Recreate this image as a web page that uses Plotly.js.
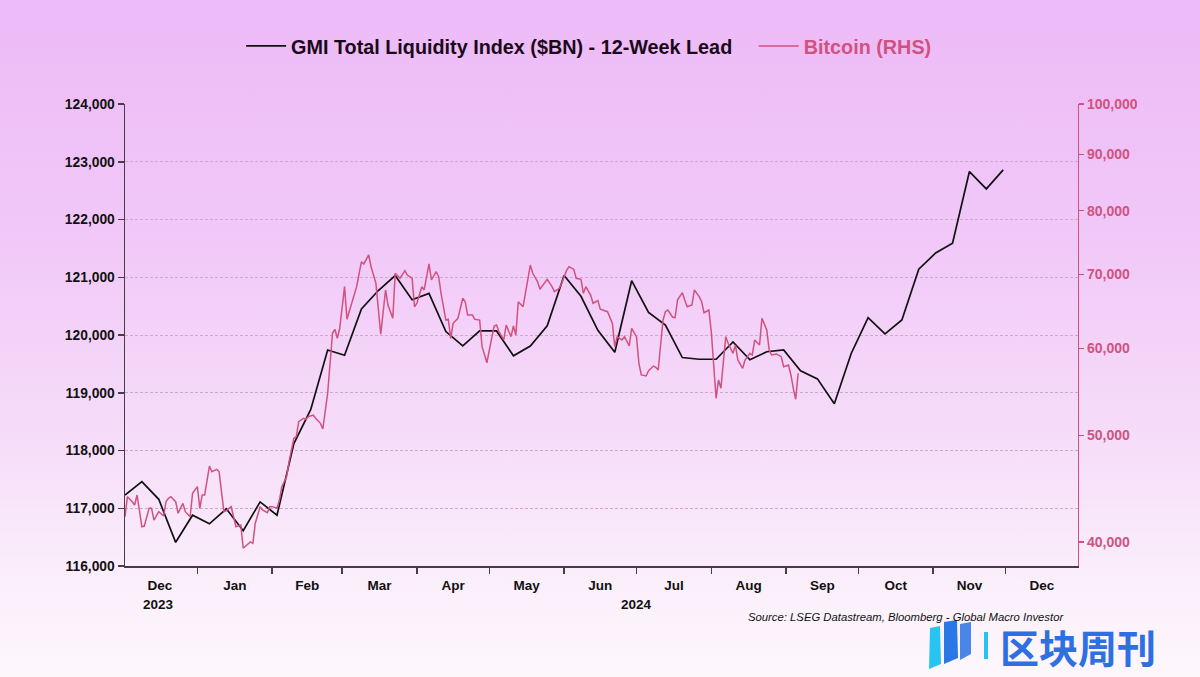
<!DOCTYPE html>
<html><head><meta charset="utf-8">
<script src="https://cdn.plot.ly/plotly-3.0.1.min.js"></script>
<style>
html,body{margin:0;padding:0;width:1200px;height:677px;overflow:hidden;
background:linear-gradient(to bottom,#EDBAF7 0%,#F1C8F8 35%,#F6DDF9 65%,#FBF0FB 88%,#FDF7FC 100%);}
#chart{width:1200px;height:677px;}
</style></head><body><div id="chart"></div>
<script>
const gmiDates = ["2023-12-02","2023-12-09","2023-12-16","2023-12-23","2023-12-30","2024-01-06","2024-01-13","2024-01-20","2024-01-27","2024-02-03","2024-02-10","2024-02-17","2024-02-24","2024-03-02","2024-03-09","2024-03-16","2024-03-23","2024-03-30","2024-04-06","2024-04-13","2024-04-20","2024-04-27","2024-05-04","2024-05-11","2024-05-18","2024-05-25","2024-06-01","2024-06-08","2024-06-15","2024-06-22","2024-06-29","2024-07-06","2024-07-13","2024-07-20","2024-07-27","2024-08-03","2024-08-10","2024-08-17","2024-08-24","2024-08-31","2024-09-07","2024-09-14","2024-09-21","2024-09-28","2024-10-05","2024-10-12","2024-10-19","2024-10-26","2024-11-02","2024-11-09","2024-11-16","2024-11-23","2024-11-30"];
const gmiValues = [117230,117460,117155,116410,116880,116730,116990,116610,117110,116880,118120,118710,119740,119650,120450,120770,121030,120610,120720,120060,119810,120070,120070,119640,119810,120160,121030,120670,120080,119700,120940,120390,120170,119610,119580,119580,119880,119570,119710,119740,119380,119240,118810,119680,120300,120020,120260,121140,121420,121590,122830,122530,122860];

const btcDates = ["2023-12-02","2023-12-03","2023-12-05","2023-12-06","2023-12-07","2023-12-09","2023-12-10","2023-12-12","2023-12-13","2023-12-14","2023-12-16","2023-12-18","2023-12-19","2023-12-20","2023-12-21","2023-12-23","2023-12-24","2023-12-26","2023-12-27","2023-12-29","2023-12-30",
"2024-01-01","2024-01-02","2024-01-03","2024-01-04","2024-01-06","2024-01-07","2024-01-09","2024-01-10","2024-01-12","2024-01-13","2024-01-15","2024-01-16","2024-01-17","2024-01-19","2024-01-20","2024-01-22","2024-01-23","2024-01-24","2024-01-25","2024-01-27","2024-01-28","2024-01-30","2024-01-31",
"2024-02-01","2024-02-03","2024-02-04","2024-02-05","2024-02-07","2024-02-08","2024-02-10","2024-02-11","2024-02-12","2024-02-14","2024-02-15","2024-02-16","2024-02-18","2024-02-19","2024-02-21","2024-02-22","2024-02-24","2024-02-25","2024-02-26","2024-02-27","2024-02-28","2024-02-29",
"2024-03-02","2024-03-03","2024-03-05","2024-03-06","2024-03-07","2024-03-09","2024-03-10","2024-03-12","2024-03-13","2024-03-15","2024-03-17","2024-03-19","2024-03-20","2024-03-22","2024-03-23","2024-03-25","2024-03-27","2024-03-28","2024-03-30","2024-03-31",
"2024-04-01","2024-04-03","2024-04-04","2024-04-06","2024-04-07","2024-04-09","2024-04-10","2024-04-11","2024-04-13","2024-04-14","2024-04-15","2024-04-16","2024-04-18","2024-04-20","2024-04-21","2024-04-22","2024-04-24","2024-04-25","2024-04-27","2024-04-28","2024-04-30",
"2024-05-01","2024-05-03","2024-05-04","2024-05-05","2024-05-07","2024-05-08","2024-05-10","2024-05-11","2024-05-12","2024-05-13","2024-05-15","2024-05-16","2024-05-18","2024-05-19","2024-05-21","2024-05-22","2024-05-24","2024-05-25","2024-05-27","2024-05-28","2024-05-30","2024-05-31",
"2024-06-02","2024-06-03","2024-06-05","2024-06-06","2024-06-08","2024-06-09","2024-06-10","2024-06-12","2024-06-13","2024-06-15","2024-06-16","2024-06-18","2024-06-19","2024-06-21","2024-06-22","2024-06-23","2024-06-25","2024-06-26","2024-06-28","2024-06-29",
"2024-07-01","2024-07-02","2024-07-03","2024-07-05","2024-07-06","2024-07-08","2024-07-09","2024-07-10","2024-07-12","2024-07-13","2024-07-14","2024-07-16","2024-07-17","2024-07-18","2024-07-20","2024-07-21","2024-07-22","2024-07-24","2024-07-25","2024-07-27","2024-07-28","2024-07-29","2024-07-31",
"2024-08-01","2024-08-03","2024-08-04","2024-08-05","2024-08-07","2024-08-08","2024-08-10","2024-08-11","2024-08-12","2024-08-14","2024-08-15","2024-08-17","2024-08-18","2024-08-19","2024-08-21","2024-08-22","2024-08-24","2024-08-25","2024-08-26","2024-08-28","2024-08-30","2024-08-31",
"2024-09-02","2024-09-03","2024-09-04","2024-09-05","2024-09-06"];
const btcValues = [42170,43980,43520,43220,44130,41300,41360,42920,42920,41880,42620,42240,43520,43830,43980,43520,42480,43370,42620,42170,44290,
44910,42920,44130,44130,46890,46340,46570,46340,42620,42710,43070,42170,41300,41450,39480,39830,40010,39890,41600,43070,42770,42530,43070,
43070,42920,43670,44910,45860,47320,49690,49860,51450,51820,51710,51990,52170,51820,51270,50670,54600,57720,61900,62420,61250,62550,
68240,63740,65910,66830,68240,71900,71560,72920,71150,68720,61770,67770,65670,63870,70180,69450,70560,69920,69450,65440,
65910,68240,67770,71560,69200,70410,69680,67300,63640,63740,61250,63210,63870,66600,66130,64310,64310,63740,63640,60190,58200,
59770,62850,62980,62110,61040,62980,61460,62850,61680,66130,65440,67300,71400,70180,68960,67870,68810,69300,68240,67530,68010,68720,
70560,71150,70760,69450,69300,67300,68240,67060,65910,66270,65090,64900,64760,63210,60190,61460,61040,61460,60280,62550,
61460,58130,56730,56610,57240,57800,57650,57320,63640,64760,64990,64010,63960,66360,67390,66360,65440,65670,67770,66830,66130,64620,64990,
62110,54030,56140,55170,61460,60620,59360,60400,58540,57530,58540,59360,59150,61040,60400,63870,62330,59770,59150,59280,58940,57720,
57930,56730,55170,53920,56930];

const leftTicks = [116000,117000,118000,119000,120000,121000,122000,123000,124000];
const rightTicks = [40000,50000,60000,70000,80000,90000,100000];
const rightTickText = ["40,000","50,000","60,000","70,000","80,000","90,000","100,000"];
const yearLabels = ["2023","2024"];
const yearPositions = ["2023-12-16","2024-07-01"];

const FONT = "Arial, 'Liberation Sans', sans-serif";
const PINK = "#D0527F";
const AXIS = "#4A3A4A";

const traces = [
  {x: gmiDates, y: gmiValues, type: "scatter", mode: "lines", yaxis: "y",
   name: "GMI Total Liquidity Index ($BN) - 12-Week Lead&nbsp;&nbsp;&nbsp;",
   line: {color: "#111111", width: 1.7}},
  {x: btcDates, y: btcValues, type: "scatter", mode: "lines", yaxis: "y2",
   name: '<span style="color:' + PINK + '">Bitcoin (RHS)</span>',
   line: {color: PINK, width: 1.5}}
];

const annotations = yearLabels.map((t, i) => ({
  text: t, x: yearPositions[i], xref: "x", y: -0.083, yref: "paper",
  showarrow: false, xanchor: "center", yanchor: "middle",
  font: {family: FONT, size: 13.5, color: "#111", weight: "bold"}
}));
annotations.push({
  text: "<i>Source: LSEG Datastream, Bloomberg - Global Macro Investor</i>",
  x: 0.987, xref: "paper", y: -0.110, yref: "paper", showarrow: false,
  xanchor: "right", yanchor: "middle",
  font: {family: FONT, size: 11.3, color: "#111"}
});
annotations.push({
  text: "区块周刊", x: 1.0, xref: "paper", y: -0.1735, yref: "paper", showarrow: false,
  xanchor: "center", yanchor: "middle",
  font: {family: "'Noto Sans CJK SC', sans-serif", size: 39, color: "#2E6FE2", weight: "bold"}
});

function px(X){return (X-125)/953;}
function py(Y){return (566-Y)/462;}
const shapes = [
  {type:"path", xref:"paper", yref:"paper", fillcolor:"#27C4F2", line:{width:0},
   path:`M ${px(930)} ${py(628)} L ${px(940)} ${py(626)} L ${px(941)} ${py(664)} L ${px(929)} ${py(669)} Z`},
  {type:"path", xref:"paper", yref:"paper", fillcolor:"#2A77E6", line:{width:0},
   path:`M ${px(944)} ${py(622)} L ${px(957)} ${py(620)} L ${px(958)} ${py(658)} L ${px(944)} ${py(664)} Z`},
  {type:"path", xref:"paper", yref:"paper", fillcolor:"#4A86E8", line:{width:0},
   path:`M ${px(960)} ${py(624)} L ${px(971)} ${py(622)} L ${px(971)} ${py(654)} L ${px(960)} ${py(660)} Z`},
  {type:"rect", xref:"paper", yref:"paper", fillcolor:"#29C2F0", line:{width:0},
   x0:px(984), x1:px(988), y0:py(659), y1:py(632)}
];

const layout = {
  width: 1200, height: 677,
  margin: {l: 125, r: 122, t: 104, b: 111},
  paper_bgcolor: "rgba(0,0,0,0)", plot_bgcolor: "rgba(0,0,0,0)",
  font: {family: FONT, color: "#111"},
  showlegend: true,
  legend: {orientation: "h", x: 0.487, xanchor: "center", y: 1.1255, yanchor: "middle",
    font: {family: FONT, size: 19.8, color: "#1a0a1a", weight: "bold"},
    bgcolor: "rgba(0,0,0,0)", itemwidth: 40, tracegroupgap: 0},
  xaxis: {type: "date", range: ["2023-12-02", "2024-12-31"],
    tick0: "2023-12-01", dtick: "M1", tickformat: "%b", ticklabelmode: "period",
    ticks: "outside", ticklen: 6, tickcolor: AXIS, tickwidth: 1.5,
    showline: true, linecolor: AXIS, linewidth: 1.5, showgrid: false, zeroline: false,
    tickfont: {family: FONT, size: 13.5, color: "#111", weight: "bold"}},
  yaxis: {range: [116000, 124000], tickvals: leftTicks, tickformat: ",d",
    ticks: "outside", ticklen: 6, tickcolor: AXIS, tickwidth: 1.5,
    showline: true, linecolor: AXIS, linewidth: 1.5,
    showgrid: true, gridcolor: "#CBAACB", griddash: "3px,2px", gridwidth: 1, zeroline: false,
    tickfont: {family: FONT, size: 13.8, color: "#111", weight: "bold"}},
  yaxis2: {type: "log", overlaying: "y", side: "right",
    range: [Math.log10(38042), 5], tickvals: rightTicks, ticktext: rightTickText,
    ticks: "outside", ticklen: 5, tickcolor: PINK, tickwidth: 1.2,
    showline: true, linecolor: PINK, linewidth: 1.2, showgrid: false, zeroline: false,
    tickfont: {family: FONT, size: 14, color: PINK, weight: "bold"}},
  annotations: annotations,
  shapes: shapes
};

Plotly.newPlot("chart", traces, layout, {displayModeBar: false, staticPlot: true});
</script>
</body></html>
